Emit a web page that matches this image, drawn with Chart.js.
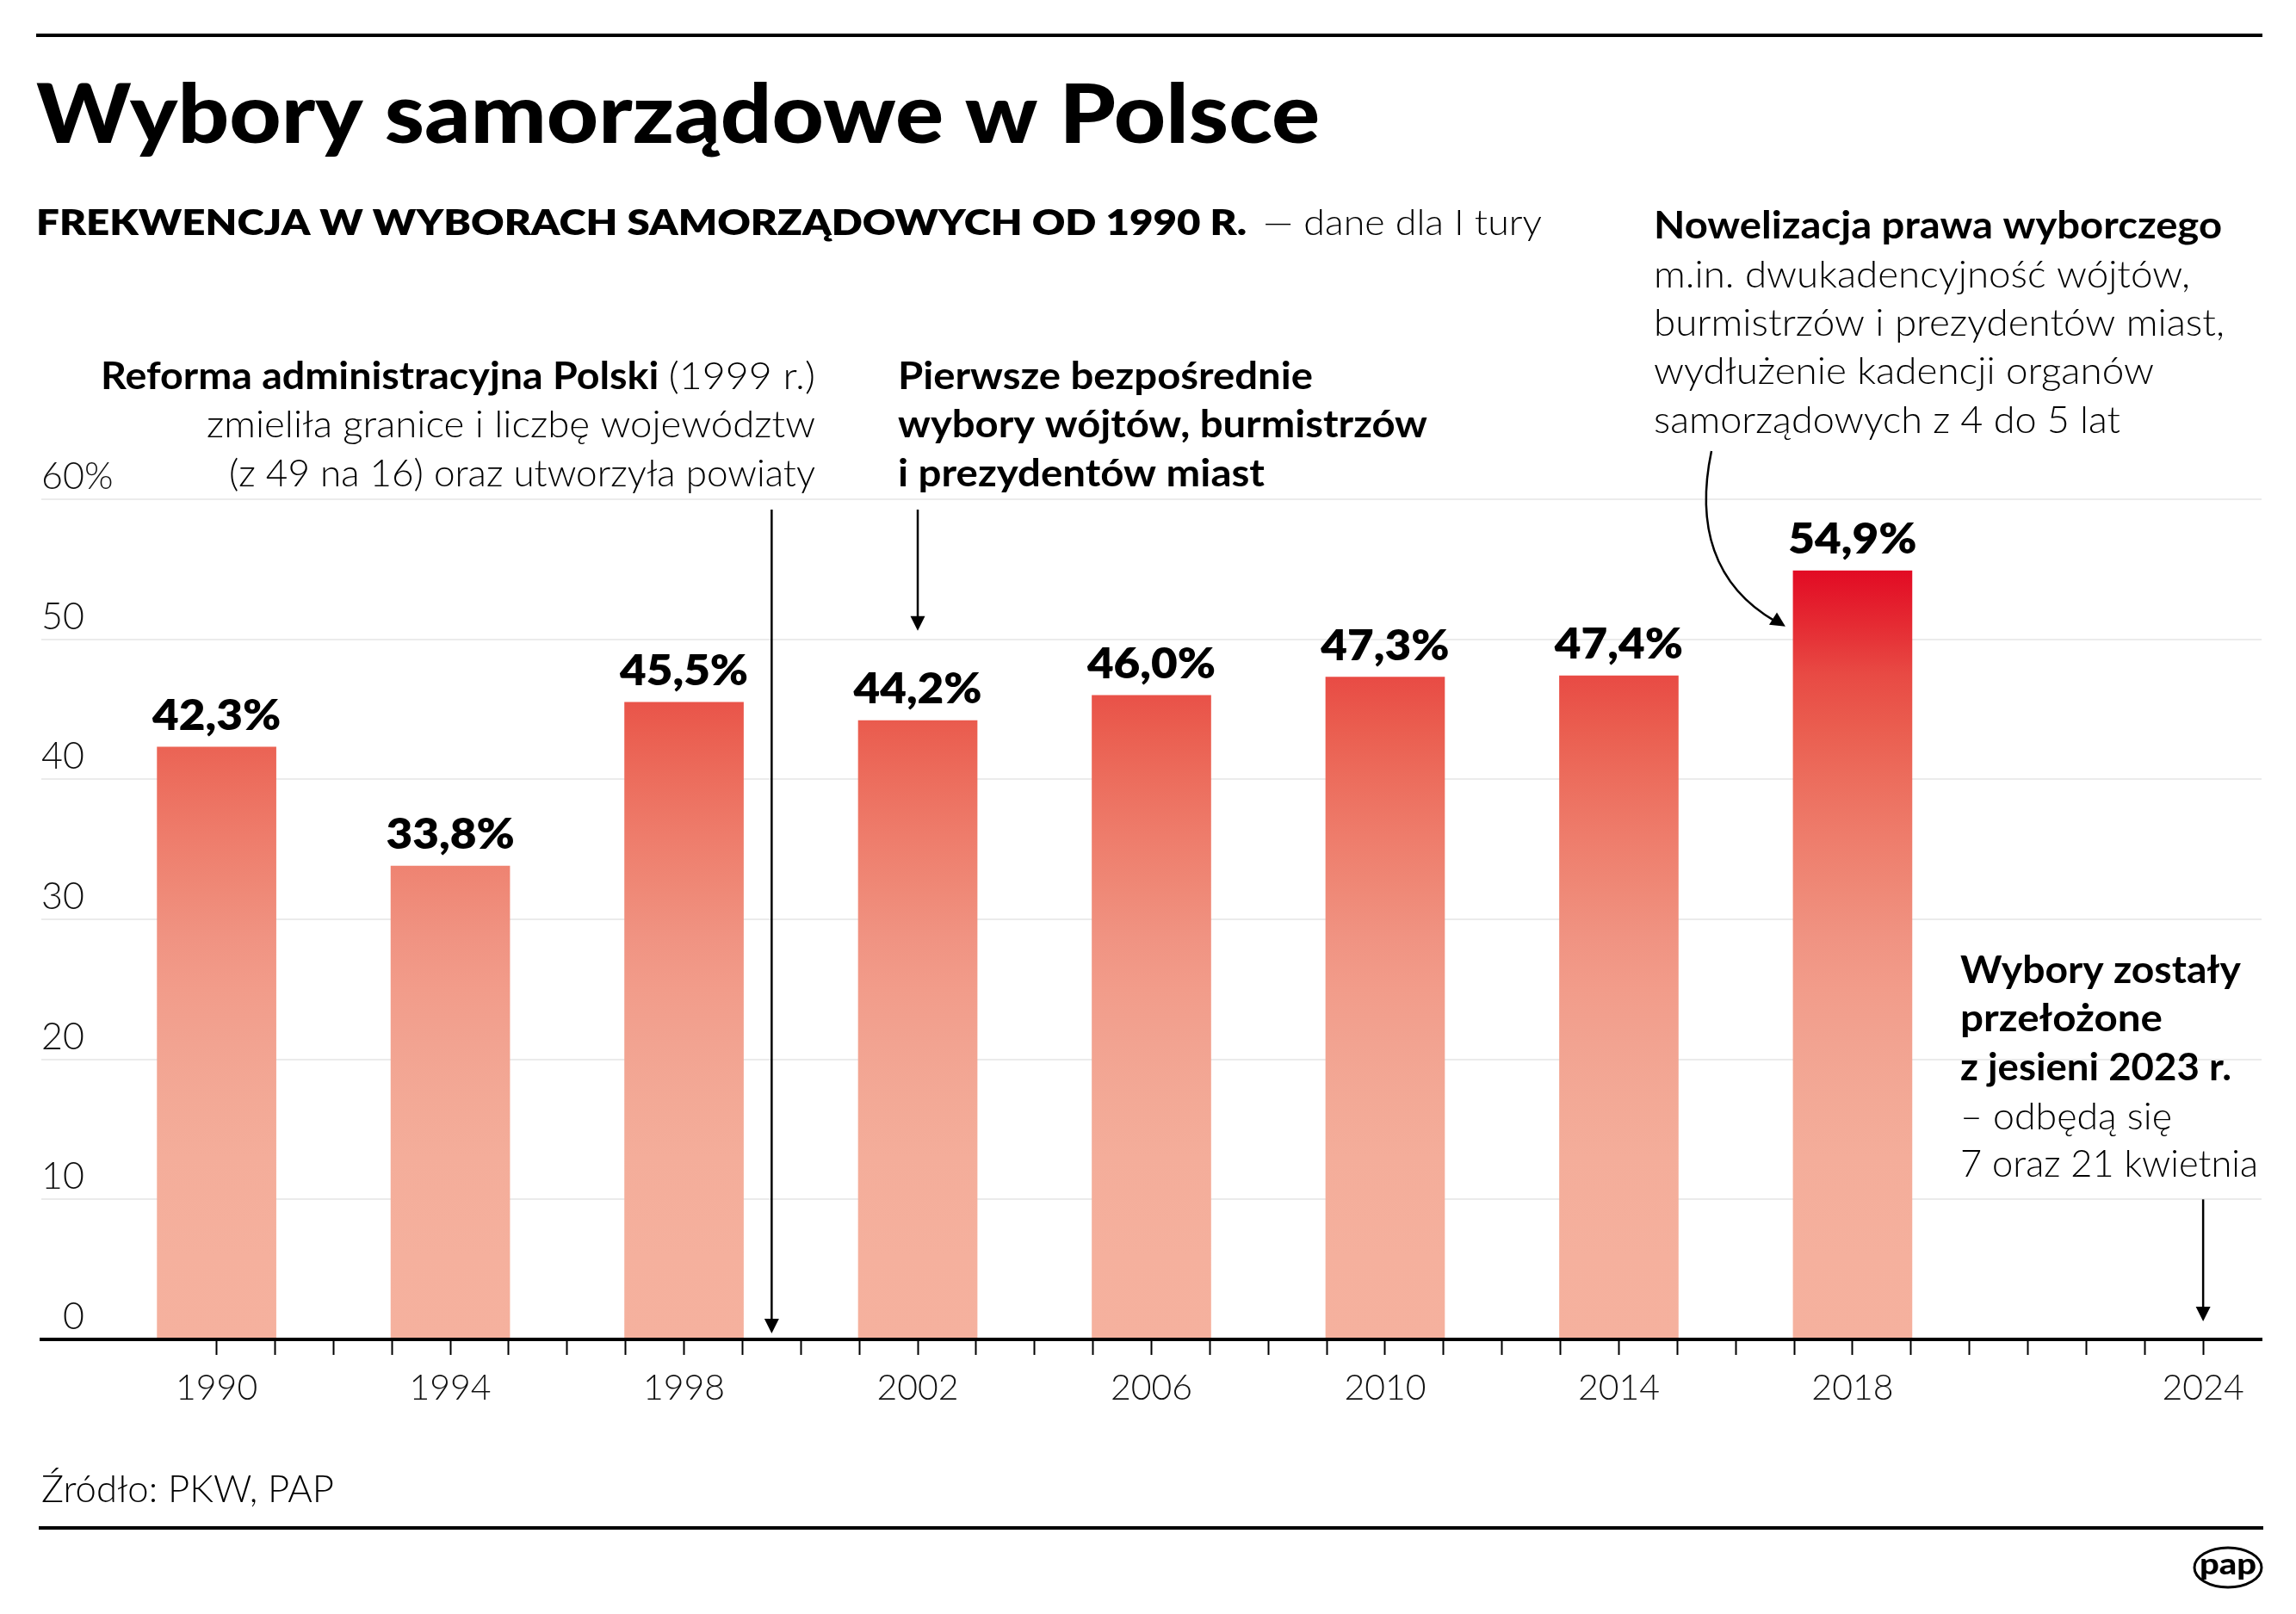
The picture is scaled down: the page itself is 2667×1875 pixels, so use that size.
<!DOCTYPE html>
<html lang="pl">
<head>
<meta charset="utf-8">
<title>Wybory samorządowe w Polsce</title>
<script src="https://cdn.jsdelivr.net/npm/chart.js@4.4.1/dist/chart.umd.min.js"></script>
<style>
  html, body { margin: 0; padding: 0; background: #fff; }
  #wrap { width: 2667px; height: 1875px; position: relative; }
</style>
</head>
<body>
<div id="wrap"><canvas id="turnoutChart" width="2667" height="1875"></canvas></div>
<script>
// Election years and turnout in the first round (%)
const electionYears = [1990, 1994, 1998, 2002, 2006, 2010, 2014, 2018];
const turnout = [42.3, 33.8, 45.5, 44.2, 46.0, 47.3, 47.4, 54.9];

// Axis ticks
const tickYears = [1990, 1991, 1992, 1993, 1994, 1995, 1996, 1997, 1998, 1999, 2000, 2001,
    2002, 2003, 2004, 2005, 2006, 2007, 2008, 2009, 2010, 2011, 2012, 2013, 2014, 2015,
    2016, 2017, 2018, 2019, 2020, 2021, 2022, 2023, 2024];
const labelYears = [1990, 1994, 1998, 2002, 2006, 2010, 2014, 2018, 2024];
const yTicks = [0, 10, 20, 30, 40, 50, 60];

const FONT = 'Lato, "Open Sans", sans-serif';

// draws one line made of segments [text, weight], squeezed to a target width
function drawLine(ctx, segs, x, y, size, align, target) {
    let total = 0;
    const widths = segs.map(([t, w]) => {
        ctx.font = `${w} ${size}px ${FONT}`;
        const m = ctx.measureText(t).width;
        total += m;
        return m;
    });
    const sx = target ? target / total : 1;
    let x0 = x;
    if (align === 'right') x0 = x - total * sx;
    if (align === 'center') x0 = x - total * sx / 2;
    ctx.save();
    ctx.translate(x0, y);
    ctx.scale(sx, 1);
    ctx.textAlign = 'left';
    ctx.textBaseline = 'alphabetic';
    let cx = 0;
    segs.forEach(([t, w], i) => {
        ctx.font = `${w} ${size}px ${FONT}`;
        ctx.fillText(t, cx, 0);
        cx += widths[i];
    });
    ctx.restore();
}

function arrowHead(ctx, x, y, angle) {
    ctx.save();
    ctx.translate(x, y);
    ctx.rotate(angle);
    ctx.beginPath();
    ctx.moveTo(0, 0);
    ctx.lineTo(-17, -8.5);
    ctx.lineTo(-17, 8.5);
    ctx.closePath();
    ctx.fill();
    ctx.restore();
}

function downArrow(ctx, x, yTop, yTip) {
    ctx.beginPath();
    ctx.moveTo(x, yTop);
    ctx.lineTo(x, yTip - 10);
    ctx.stroke();
    arrowHead(ctx, x, yTip, Math.PI / 2);
}

// gradient along the value axis: red at the top, salmon near the base
function barGradient(context) {
    const chart = context.chart;
    const { ctx, chartArea, scales } = chart;
    if (!chartArea) return '#f5b19e';
    const y = scales.y;
    const g = ctx.createLinearGradient(0, y.getPixelForValue(55), 0, y.getPixelForValue(0));
    const stops = [
        [55, '#e20a23'], [51, '#e52b33'], [47.5, '#e84a44'], [43.7, '#ea5d4f'],
        [40, '#ec6d5d'], [36, '#ee7c6b'], [32, '#ef8977'], [28.7, '#f09382'],
        [25, '#f29c8a'], [21, '#f2a391'], [17, '#f3a996'], [13, '#f4ad9a'],
        [6, '#f5b09d'], [0, '#f5b19e']
    ];
    stops.forEach(([v, c]) => g.addColorStop((55 - v) / 55, c));
    return g;
}

const decorPlugin = {
    id: 'decor',
    afterDatasetsDraw(chart) {
        const ctx = chart.ctx;
        const meta = chart.getDatasetMeta(0);
        ctx.save();
        ctx.fillStyle = '#000';
        meta.data.forEach((bar, i) => {
            const txt = turnout[i].toFixed(1).replace('.', ',') + '%';
            ctx.font = `800 50px ${FONT}`;
            const w = ctx.measureText(txt).width * 1.06;
            drawLine(ctx, [[txt, 800]], bar.x, bar.y - 20, 50, 'center', w);
        });
        ctx.restore();
    },
    afterDraw(chart) {
        const ctx = chart.ctx;
        const x = chart.scales.x;
        const y = chart.scales.y;
        ctx.save();
        ctx.fillStyle = '#000';
        ctx.strokeStyle = '#000';

        // rules
        ctx.fillRect(42, 39, 2586, 4);
        ctx.fillRect(45, 1773, 2584, 4);

        // title and subtitle
        drawLine(ctx, [['Wybory samorządowe w Polsce', 900]], 42, 166, 96, 'left', 1491);
        drawLine(ctx, [['FREKWENCJA W WYBORACH SAMORZĄDOWYCH OD 1990 R.', 800]], 42, 273, 42, 'left', 1406);
        drawLine(ctx, [['— dane dla I tury', 300]], 1467, 273, 42, 'left', 324);

        // annotation: reform 1999
        drawLine(ctx, [['Reforma administracyjna Polski ', 700], ['(1999 r.)', 300]], 947, 452, 44, 'right', 830);
        drawLine(ctx, [['zmieliła granice i liczbę województw', 300]], 947, 508, 44, 'right', 707);
        drawLine(ctx, [['(z 49 na 16) oraz utworzyła powiaty', 300]], 947, 565, 44, 'right', 681);

        // annotation: first direct elections
        drawLine(ctx, [['Pierwsze bezpośrednie', 700]], 1043, 452, 44, 'left', 482);
        drawLine(ctx, [['wybory wójtów, burmistrzów', 700]], 1043, 508, 44, 'left', 615);
        drawLine(ctx, [['i prezydentów miast', 700]], 1043, 565, 44, 'left', 426);

        // annotation: electoral law amendment
        drawLine(ctx, [['Nowelizacja prawa wyborczego', 700]], 1921, 277, 44, 'left', 660);
        drawLine(ctx, [['m.in. dwukadencyjność wójtów,', 300]], 1921, 334, 44, 'left', 623);
        drawLine(ctx, [['burmistrzów i prezydentów miast,', 300]], 1921, 390, 44, 'left', 663);
        drawLine(ctx, [['wydłużenie kadencji organów', 300]], 1921, 446, 44, 'left', 581);
        drawLine(ctx, [['samorządowych z 4 do 5 lat', 300]], 1921, 503, 44, 'left', 542);

        // annotation: postponed elections
        drawLine(ctx, [['Wybory zostały', 700]], 2277, 1142, 44, 'left', 326);
        drawLine(ctx, [['przełożone', 700]], 2277, 1198, 44, 'left', 235);
        drawLine(ctx, [['z jesieni 2023 r.', 700]], 2277, 1255, 44, 'left', 315);
        drawLine(ctx, [['– odbędą się', 300]], 2277, 1312, 44, 'left', 246);
        drawLine(ctx, [['7 oraz 21 kwietnia', 300]], 2277, 1367, 44, 'left', 346);

        // source
        drawLine(ctx, [['Źródło: PKW, PAP', 300]], 48, 1745, 44, 'left', 340);

        // arrows
        ctx.lineWidth = 2.5;
        const top60 = y.getPixelForValue(60) + 12;
        downArrow(ctx, x.getPixelForValue(1999.5), top60, y.getPixelForValue(0) - 7);
        downArrow(ctx, x.getPixelForValue(2002), top60, y.getPixelForValue(50) - 10);
        downArrow(ctx, x.getPixelForValue(2024), y.getPixelForValue(10), y.getPixelForValue(0) - 21);

        // curved arrow to the 2018 bar
        const tipX = x.getPixelForValue(2018) - 78;
        const tipY = y.getPixelForValue(50) - 15;
        ctx.beginPath();
        ctx.moveTo(1988, 524);
        ctx.bezierCurveTo(1970, 610, 1990, 680, tipX - 12, tipY - 6);
        ctx.stroke();
        arrowHead(ctx, tipX, tipY, Math.atan2(10, 16));

        // pap logo
        ctx.lineWidth = 3;
        ctx.beginPath();
        ctx.ellipse(2588, 1821, 39, 23, 0, 0, Math.PI * 2);
        ctx.stroke();
        drawLine(ctx, [['pap', 900]], 2555, 1829, 34, 'left', 66);
        ctx.restore();
    }
};

const ctx = document.getElementById('turnoutChart').getContext('2d');
new Chart(ctx, {
    type: 'bar',
    data: {
        datasets: [{
            label: 'Frekwencja',
            data: electionYears.map((yr, i) => ({ x: yr, y: turnout[i] })),
            backgroundColor: barGradient,
            borderWidth: 0,
            barThickness: 138
        }]
    },
    options: {
        responsive: false,
        devicePixelRatio: 1,
        animation: false,
        layout: { padding: { left: 48, right: 40, top: 580, bottom: 0 } },
        plugins: {
            legend: { display: false },
            tooltip: { enabled: false }
        },
        scales: {
            x: {
                type: 'linear',
                min: 1987,
                max: 2025,
                offset: false,
                afterBuildTicks: axis => { axis.ticks = tickYears.map(v => ({ value: v })); },
                afterFit: axis => { axis.height = 319; },
                grid: {
                    offset: false,
                    drawOnChartArea: false,
                    drawTicks: true,
                    tickLength: 18,
                    tickWidth: 2,
                    tickColor: '#000'
                },
                border: { display: true, color: '#000', width: 4, z: 1 },
                ticks: {
                    autoSkip: false,
                    maxRotation: 0,
                    padding: 14,
                    color: '#111',
                    font: { family: FONT, size: 41, weight: 300 },
                    callback: v => labelYears.includes(v) ? String(v) : ''
                }
            },
            y: {
                min: 0,
                max: 60,
                afterBuildTicks: axis => { axis.ticks = yTicks.map(v => ({ value: v })); },
                afterFit: axis => { axis.width = 0; },
                grid: { color: '#ebebeb', lineWidth: 2, drawTicks: false },
                border: { display: false },
                ticks: {
                    mirror: true,
                    padding: 0,
                    labelOffset: -26,
                    color: '#111',
                    font: { family: FONT, size: 43, weight: 300 },
                    callback: v => v === 60 ? '60%' : (v === 0 ? '\u2007' + v : String(v))
                }
            }
        }
    },
    plugins: [decorPlugin]
});
</script>
</body>
</html>
